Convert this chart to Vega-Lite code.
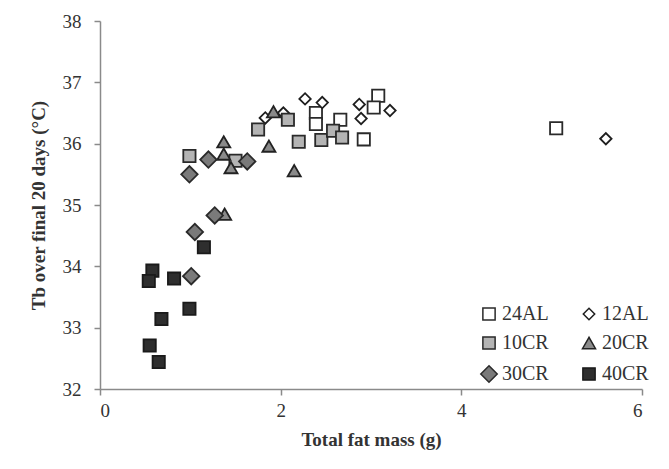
{
  "$schema": "https://vega.github.io/schema/vega-lite/v6.json",
  "autosize": {"type": "none"},
  "width": 542,
  "height": 368,
  "padding": {"left": 100, "top": 21, "right": 27, "bottom": 80},
  "background": "white",
  "config": {
    "view": {"stroke": null},
    "font": "Liberation Serif",
    "axis": {
      "grid": false,
      "domainColor": "#8a8a8a",
      "domainWidth": 1.5,
      "tickColor": "#8a8a8a",
      "tickWidth": 1.5,
      "tickSize": 6,
      "labelFont": "Liberation Serif",
      "labelFontSize": 19,
      "labelColor": "#333333",
      "titleFont": "Liberation Serif",
      "titleFontSize": 19,
      "titleFontWeight": "bold",
      "titleColor": "#333333"
    }
  },
  "data": {
    "values": [
      {"x": 3.08, "y": 36.78, "g": "24AL"},
      {"x": 3.03, "y": 36.59, "g": "24AL"},
      {"x": 2.92, "y": 36.07, "g": "24AL"},
      {"x": 2.39, "y": 36.5, "g": "24AL"},
      {"x": 2.39, "y": 36.32, "g": "24AL"},
      {"x": 2.66, "y": 36.39, "g": "24AL"},
      {"x": 5.05, "y": 36.25, "g": "24AL"},
      {"x": 2.27, "y": 36.73, "g": "12AL"},
      {"x": 2.46, "y": 36.67, "g": "12AL"},
      {"x": 2.87, "y": 36.64, "g": "12AL"},
      {"x": 2.89, "y": 36.41, "g": "12AL"},
      {"x": 3.21, "y": 36.54, "g": "12AL"},
      {"x": 1.83, "y": 36.42, "g": "12AL"},
      {"x": 2.03, "y": 36.5, "g": "12AL"},
      {"x": 5.6, "y": 36.08, "g": "12AL"},
      {"x": 2.08, "y": 36.39, "g": "10CR"},
      {"x": 2.2, "y": 36.03, "g": "10CR"},
      {"x": 2.45, "y": 36.06, "g": "10CR"},
      {"x": 2.58, "y": 36.21, "g": "10CR"},
      {"x": 2.68, "y": 36.1, "g": "10CR"},
      {"x": 1.75, "y": 36.23, "g": "10CR"},
      {"x": 0.99, "y": 35.8, "g": "10CR"},
      {"x": 1.5, "y": 35.72, "g": "10CR"},
      {"x": 1.92, "y": 36.52, "g": "20CR"},
      {"x": 1.37, "y": 36.03, "g": "20CR"},
      {"x": 1.37, "y": 35.83, "g": "20CR"},
      {"x": 1.45, "y": 35.61, "g": "20CR"},
      {"x": 1.87, "y": 35.96, "g": "20CR"},
      {"x": 2.15, "y": 35.56, "g": "20CR"},
      {"x": 1.38, "y": 34.85, "g": "20CR"},
      {"x": 1.2, "y": 35.74, "g": "30CR"},
      {"x": 0.99, "y": 35.5, "g": "30CR"},
      {"x": 1.63, "y": 35.71, "g": "30CR"},
      {"x": 1.27, "y": 34.83, "g": "30CR"},
      {"x": 1.05, "y": 34.56, "g": "30CR"},
      {"x": 1.01, "y": 33.84, "g": "30CR"},
      {"x": 1.15, "y": 34.31, "g": "40CR"},
      {"x": 0.58, "y": 33.93, "g": "40CR"},
      {"x": 0.54, "y": 33.76, "g": "40CR"},
      {"x": 0.82, "y": 33.8, "g": "40CR"},
      {"x": 0.99, "y": 33.31, "g": "40CR"},
      {"x": 0.68, "y": 33.14, "g": "40CR"},
      {"x": 0.55, "y": 32.71, "g": "40CR"},
      {"x": 0.65, "y": 32.44, "g": "40CR"}
    ]
  },
  "mark": {"type": "point", "filled": true, "opacity": 1, "strokeWidth": 1.8},
  "encoding": {
    "x": {
      "field": "x", "type": "quantitative",
      "scale": {"domain": [0, 6], "nice": false, "zero": false},
      "axis": {"values": [0, 2, 4, 6], "title": "Total fat mass (g)", "labelPadding": 6, "titlePadding": 10}
    },
    "y": {
      "field": "y", "type": "quantitative",
      "scale": {"domain": [32, 38], "nice": false, "zero": false},
      "axis": {"values": [32, 33, 34, 35, 36, 37, 38], "title": "Tb over final 20 days (°C)", "labelPadding": 13, "titlePadding": 14}
    },
    "shape": {
      "field": "g", "type": "nominal",
      "scale": {"domain": ["24AL", "10CR", "30CR", "12AL", "20CR", "40CR"], "range": ["square", "square", "diamond", "diamond", "triangle-up", "square"]},
      "legend": {"title": null}
    },
    "fill": {
      "field": "g", "type": "nominal",
      "scale": {"domain": ["24AL", "10CR", "30CR", "12AL", "20CR", "40CR"], "range": ["#ffffff", "#b4b4b4", "#7a7a7a", "#ffffff", "#8a8a8a", "#2e2e2e"]},
      "legend": {"title": null}
    },
    "stroke": {
      "field": "g", "type": "nominal",
      "scale": {"domain": ["24AL", "10CR", "30CR", "12AL", "20CR", "40CR"], "range": ["#2a2a2a", "#2a2a2a", "#2a2a2a", "#1e1e1e", "#222222", "#1a1a1a"]},
      "legend": {"title": null}
    },
    "size": {
      "field": "g", "type": "nominal",
      "scale": {"type": "ordinal", "domain": ["24AL", "10CR", "30CR", "12AL", "20CR", "40CR"], "range": [150, 150, 270, 130, 170, 150]},
      "legend": {
        "title": null,
        "orient": "none",
        "legendX": 379,
        "legendY": 283,
        "columns": 2,
        "columnPadding": 30,
        "rowPadding": 9,
        "labelFont": "Liberation Serif",
        "labelFontSize": 20,
        "labelColor": "#333333",
        "labelOffset": 3,
        "padding": 0
      }
    }
  }
}
